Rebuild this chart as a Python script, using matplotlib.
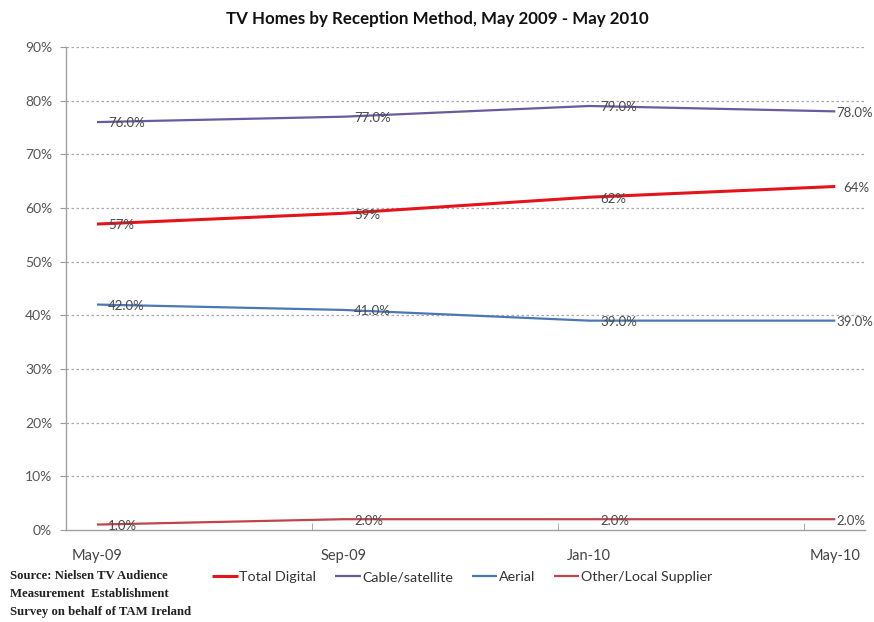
import matplotlib
matplotlib.use("Agg")
import matplotlib.pyplot as plt
from matplotlib.ticker import FixedLocator, PercentFormatter

months = ["May-09", "Sep-09", "Jan-10", "May-10"]
total_digital = [57, 59, 62, 64]
cable_satellite = [76.0, 77.0, 79.0, 78.0]
aerial = [42.0, 41.0, 39.0, 39.0]
other_local = [1.0, 2.0, 2.0, 2.0]

series = [
    ("Total Digital", total_digital, "#e3141b", 2.2, "{:.0f}%"),
    ("Cable/satellite", cable_satellite, "#6a5a9e", 1.6, "{:.1f}%"),
    ("Aerial", aerial, "#4a78b4", 1.6, "{:.1f}%"),
    ("Other/Local Supplier", other_local, "#c0454a", 1.6, "{:.1f}%"),
]

plt.rcParams["font.family"] = ["Lato", "DejaVu Sans"]

fig = plt.figure(figsize=(8.74, 6.22), dpi=100)
ax = fig.add_axes([0.0755, 0.148, 0.914, 0.7765])

x = list(range(len(months)))
for name, vals, color, lw, fmt in series:
    ax.plot(x, vals, color=color, lw=lw, label=name, solid_capstyle="butt")
    for i, v in enumerate(vals):
        last = i == len(vals) - 1
        dx = (6 if fmt == "{:.0f}%" else 1) if last else 8
        ax.annotate(fmt.format(v), (i, v), xytext=(dx, -1), textcoords="offset points",
                    ha="left", va="center", fontsize=9.5, color="#4a4a4a")

ax.set_ylim(0, 90)
ax.set_xlim(-0.126, 3.12)
ax.yaxis.set_major_locator(FixedLocator(range(0, 91, 10)))
ax.yaxis.set_major_formatter(PercentFormatter(decimals=0))
ax.set_xticks(x)
ax.set_xticklabels(months)
ax.set_xticks([k - 0.126 for k in range(1, 4)], minor=True)

ax.tick_params(axis="x", which="major", length=0, pad=14, labelsize=10.5, colors="#444444")
ax.tick_params(axis="x", which="minor", length=5, direction="in", color="#999999")
ax.tick_params(axis="y", length=4, color="#999999", labelsize=10, labelcolor="#555555", pad=6)

for y in range(10, 91, 10):
    ax.axhline(y, color="#aaaaaa", lw=0.9, ls=(0, (2, 2)), zorder=0)

for side in ("top", "right"):
    ax.spines[side].set_visible(False)
for side in ("left", "bottom"):
    ax.spines[side].set_color("#a0a0a0")
    ax.spines[side].set_linewidth(1.0)

fig.text(0.5, 0.97, "TV Homes by Reception Method, May 2009 - May 2010",
         ha="center", va="center", fontsize=12.2, fontweight="bold", color="#111111")

fig.legend(loc="center left", bbox_to_anchor=(0.228, 0.072), ncol=4, frameon=False,
           fontsize=10.3, handlelength=1.8, handletextpad=0.1, columnspacing=1.3,
           labelcolor="#333333")

fig.text(0.012, 0.083, "Source: Nielsen TV Audience\nMeasurement  Establishment\nSurvey on behalf of TAM Ireland",
         ha="left", va="top", fontsize=9.2, fontweight="bold", family="Liberation Serif",
         color="#222222", linespacing=1.63)

fig.savefig("out.png", dpi=100)
